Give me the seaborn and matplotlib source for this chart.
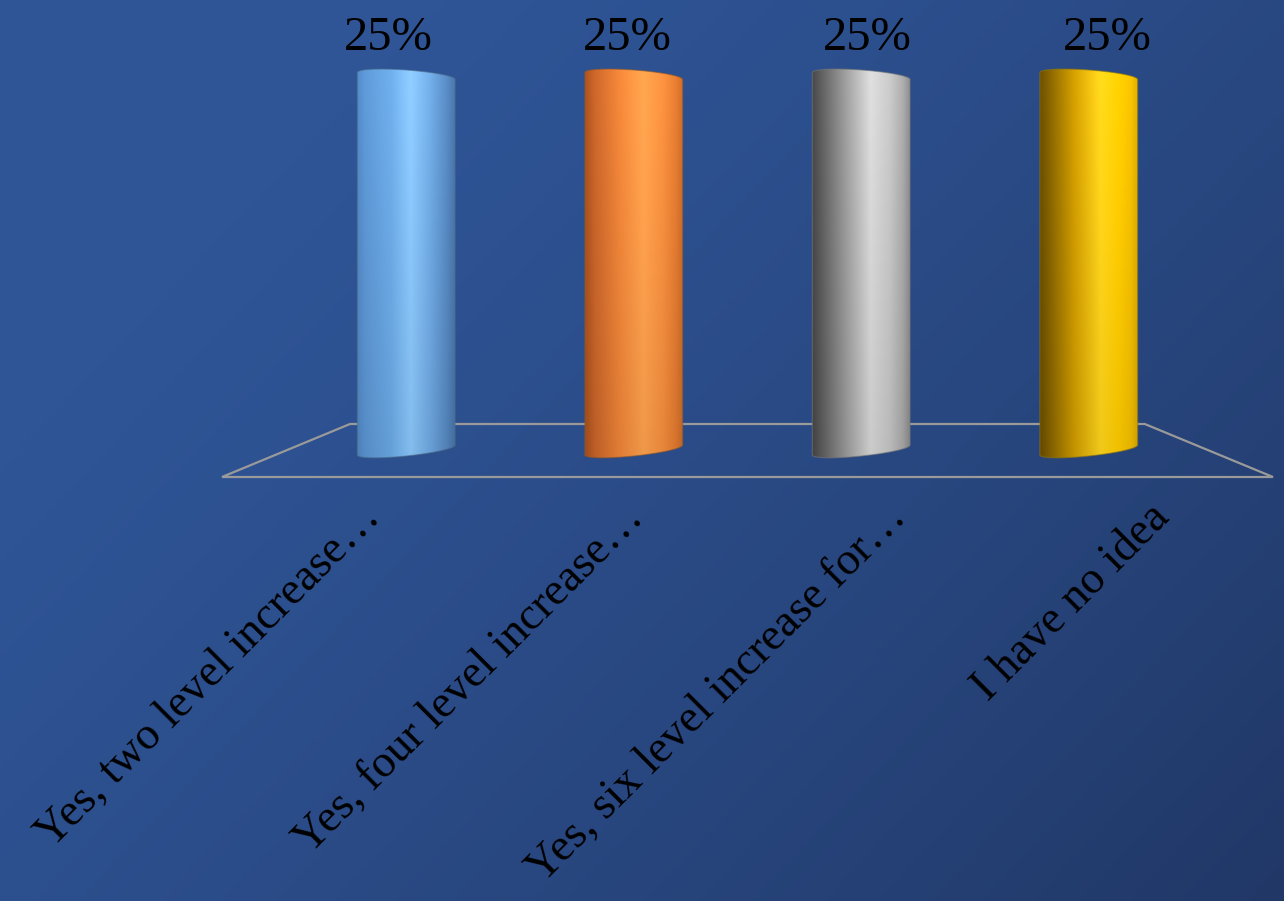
import numpy as np
import pandas as pd
import matplotlib
matplotlib.use("Agg")
import matplotlib.pyplot as plt
from matplotlib.colors import LinearSegmentedColormap, to_rgb
from matplotlib.patches import Polygon
from matplotlib.transforms import ScaledTranslation
import seaborn as sns

# ---- data -------------------------------------------------------------
categories = [
    "Yes, two level increase…",
    "Yes, four level increase…",
    "Yes, six level increase for…",
    "I have no idea",
]
shares = [25, 25, 25, 25]
bar_colors = ["#5B9BD5", "#ED7D31", "#A5A5A5", "#FFC000"]

# horizontal shading of each cylinder (position across bar, colour)
shade_stops = [
    [(0.0, "#5086C2"), (0.08, "#5C95D2"), (0.35, "#6CAAE6"), (0.55, "#8CC8FC"),
     (0.75, "#6FA9E2"), (0.92, "#5688C0"), (1.0, "#4873A8")],
    [(0.0, "#A8501C"), (0.1, "#C8642A"), (0.35, "#EE8438"), (0.6, "#FFA24E"),
     (0.8, "#F58E3E"), (0.93, "#E27A30"), (1.0, "#C86A2A")],
    [(0.0, "#454545"), (0.1, "#5E5E5E"), (0.35, "#9C9C9C"), (0.6, "#D8D8D8"),
     (0.8, "#C4C4C4"), (0.93, "#A8A8A8"), (1.0, "#8A8A8A")],
    [(0.0, "#6A4E00"), (0.12, "#8C6800"), (0.35, "#D09C00"), (0.62, "#FFD51C"),
     (0.8, "#FFCC00"), (0.93, "#F2BE00"), (1.0, "#D8A800")],
]

# ---- style ------------------------------------------------------------
sns.set_theme(style="white")
plt.rcParams["font.family"] = ["Liberation Serif", "DejaVu Serif"]

W, H = 1284, 901
fig = plt.figure(figsize=(W / 100, H / 100), dpi=100)

# diagonal blue background
bg = fig.add_axes([0, 0, 1, 1], zorder=-10)
yy, xx = np.mgrid[0:1:300j, 0:1:300j]
d = np.clip((0.6 * xx + 0.4 * yy - 0.2) / 0.8, 0, 1) ** 1.2
bg_cmap = LinearSegmentedColormap.from_list("bg", ["#2F5597", "#213867"])
bg.imshow(d, cmap=bg_cmap, extent=(0, 1, 0, 1), aspect="auto", origin="upper")
bg.set_axis_off()

# axes geometry (figure fractions)
left, width = 222 / W, 1051 / W
base = (H - 477) / H

# floor plane with category labels along its front edge
floor = fig.add_axes([left, base, width, 53 / H], zorder=1)
floor.set_facecolor("none")
for s in floor.spines.values():
    s.set_visible(False)
floor.add_patch(Polygon([(0, 0), (1, 0), (0.878, 1), (0.1218, 1)], closed=True,
                        transform=floor.transAxes, facecolor="none",
                        edgecolor="#9A9A9A", linewidth=1.6, clip_on=False))
floor.set_xlim(-0.5, 3.5)
floor.set_ylim(0, 1)
floor.set_yticks([])
floor.set_xticks(range(len(categories)))
floor.set_xticklabels(categories, rotation=45, ha="right", va="top",
                      rotation_mode="anchor", fontsize=33, color="black")
floor.tick_params(axis="x", length=0, pad=14)
shift = ScaledTranslation(6 / 100, 0, fig.dpi_scale_trans)
for lab in floor.get_xticklabels():
    lab.set_transform(lab.get_transform() + shift)

# bars
ax = fig.add_axes([left, base, width, 477 / H], zorder=2)
ax.set_facecolor("none")
df = pd.DataFrame({"category": categories, "share": shares})
sns.barplot(data=df, x="category", y="share", hue="category",
            palette=bar_colors, width=0.43, legend=False, ax=ax)

px_per_unit = 374 / 25.0          # vertical pixels per percentage point
patches = list(ax.patches)
centers = [p.get_x() + p.get_width() / 2 for p in patches]
mid = float(np.mean(centers))

for p, stops, val in zip(patches, shade_stops, shares):
    p.set_visible(False)
    x0, w, h = p.get_x(), p.get_width(), p.get_height()
    cx, a = x0 + w / 2, w / 2

    # cylinder outline: back arc of the top cap, front arc of the base
    bt, kt = 6.0 / px_per_unit, -3.5 / px_per_unit
    bb, kb = 6.0 / px_per_unit, 5.0 / px_per_unit
    t1 = np.linspace(0, np.pi, 60)
    t2 = np.linspace(np.pi, 2 * np.pi, 60)
    top = np.column_stack([cx + a * np.cos(t1), h + bt * np.sin(t1) + kt * np.cos(t1)])
    bot = np.column_stack([cx + a * np.cos(t2), bb * np.sin(t2) + kb * np.cos(t2)])
    outline = np.vstack([top, bot])

    poly = Polygon(outline, closed=True, facecolor="none",
                   edgecolor=tuple(c * 0.55 for c in to_rgb(stops[3][1])),
                   linewidth=0.8, alpha=0.6, zorder=3)
    ax.add_patch(poly)

    cmap = LinearSegmentedColormap.from_list("shade", stops)
    grad = cmap(np.linspace(0, 1, 256))[None, :, :3]
    vert = np.linspace(1.04, 0.94, 64)[:, None, None]
    img = np.clip(grad * vert, 0, 1)
    ymin, ymax = outline[:, 1].min() - 0.2, outline[:, 1].max() + 0.2
    im = ax.imshow(img, extent=(x0, x0 + w, ymin, ymax), aspect="auto",
                   origin="upper", zorder=2, interpolation="bilinear")
    im.set_clip_path(poly)

    # value label above the cylinder
    ax.annotate(f"{val:.0f}%", xy=(mid + (cx - mid) * 1.054, h),
                xytext=(0, 11.5), textcoords="offset points",
                ha="center", va="bottom", fontsize=35, color="black")

ax.set_xlim(-0.81, 3.81)
ax.set_ylim(-27 / px_per_unit, 25 + 76 / px_per_unit)
ax.set_axis_off()

fig.savefig("out.png", dpi=100)
